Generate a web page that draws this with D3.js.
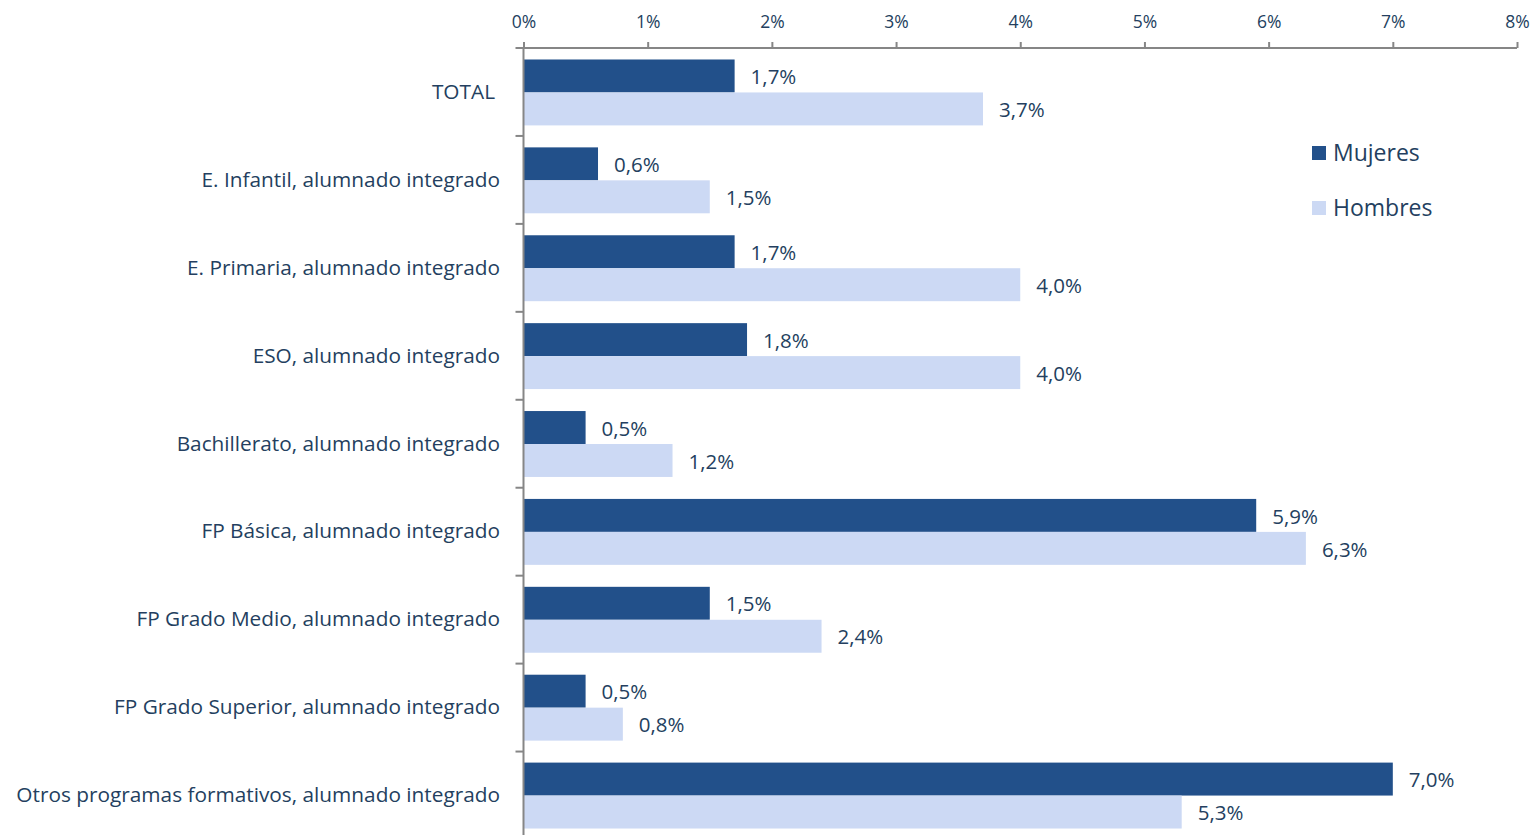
<!DOCTYPE html>
<html><head><meta charset="utf-8">
<script src="https://cdn.jsdelivr.net/npm/d3@7"></script>
<style>body{margin:0;background:#fff;} svg{display:block;} text{font-family:"Open Sans",sans-serif;fill:#243F60;}</style>
</head><body>
<svg id="c" width="1532" height="835"></svg>
<script>
const categories = ["TOTAL","E. Infantil, alumnado integrado","E. Primaria, alumnado integrado","ESO, alumnado integrado","Bachillerato, alumnado integrado","FP Básica, alumnado integrado","FP Grado Medio, alumnado integrado","FP Grado Superior, alumnado integrado","Otros programas formativos, alumnado integrado"];
const mujeres = [1.7,0.6,1.7,1.8,0.5,5.9,1.5,0.5,7.0];
const hombres = [3.7,1.5,4.0,4.0,1.2,6.3,2.4,0.8,5.3];
const seriesNames = ["Mujeres","Hombres"];
const xTicks = [0,1,2,3,4,5,6,7,8];
const colors = ["#22508A","#CCD9F4"];

(function(){
const svg = d3.select("#c");
const mLeft = 523.5, mRight = 1517, mTop = 48, mBottom = 839.5;
const x = d3.scaleLinear().domain([0,8]).range([mLeft,mRight]);
const y = d3.scaleBand().domain(categories).range([mTop+0.5,mBottom]).paddingInner(0.25).paddingOuter(0.125);
const yOuter = d3.scaleBand().domain(categories).range([mTop,mBottom]);
const sub = d3.scaleBand().domain(seriesNames).range([0,y.bandwidth()]);

const data = categories.map((c,i)=>({c, vals:[{s:"Mujeres",v:mujeres[i]},{s:"Hombres",v:hombres[i]}]}));
const fmt = v => d3.format(".1f")(v).replace(".",",")+"%";

const g = svg.append("g");
const groups = g.selectAll(".cat").data(data).join("g").attr("transform",d=>`translate(0,${y(d.c)})`);
groups.selectAll("rect").data(d=>d.vals).join("rect")
  .attr("x",x(0)).attr("y",d=>sub(d.s)).attr("width",d=>x(d.v)-x(0)).attr("height",sub.bandwidth())
  .attr("fill",(d,i)=>colors[i]);
groups.selectAll("text.val").data(d=>d.vals).join("text").attr("class","val")
  .attr("x",d=>x(d.v)+16).attr("y",d=>sub(d.s)+sub.bandwidth()/2+1).attr("dy","0.35em")
  .style("font-size","20.5px").text(d=>fmt(d.v));

const xa = svg.append("g").attr("transform",`translate(0,${mTop})`)
  .call(d3.axisTop(x).tickValues(xTicks).tickFormat(d=>d+"%").tickSize(6).tickPadding(14));
xa.select(".domain").attr("stroke","#868686").attr("stroke-width",2).attr("d",`M${mLeft-8},0H${mRight}`);
xa.selectAll(".tick line").attr("stroke","#868686").attr("stroke-width",2);
xa.selectAll(".tick text").style("font-size","17.5px").style("fill","#243F60").attr("font-family","'Open Sans',sans-serif");

const ya = svg.append("g");
ya.append("line").attr("x1",mLeft).attr("x2",mLeft).attr("y1",mTop).attr("y2",mBottom).attr("stroke","#868686").attr("stroke-width",2);
ya.selectAll("line.t").data(categories.slice(1)).join("line").attr("class","t")
  .attr("x1",mLeft-8).attr("x2",mLeft).attr("y1",d=>yOuter(d)).attr("y2",d=>yOuter(d)).attr("stroke","#868686").attr("stroke-width",2);
ya.selectAll("text").data(categories).join("text")
  .attr("x",d=> d==="TOTAL" ? 495 : 500).attr("y",d=>yOuter(d)+yOuter.bandwidth()/2-0.5).attr("dy","0.35em").attr("text-anchor","end")
  .style("font-size","20.8px").text(d=>d);

const lg = svg.append("g").selectAll("g").data(seriesNames).join("g").attr("transform",(d,i)=>`translate(1312,${153+i*55})`);
lg.append("rect").attr("x",0).attr("y",-7).attr("width",14).attr("height",14).attr("fill",(d,i)=>colors[i]);
lg.append("text").attr("x",21).attr("dy","0.35em").style("font-size","23px").text(d=>d);
})();
</script>
</body></html>
